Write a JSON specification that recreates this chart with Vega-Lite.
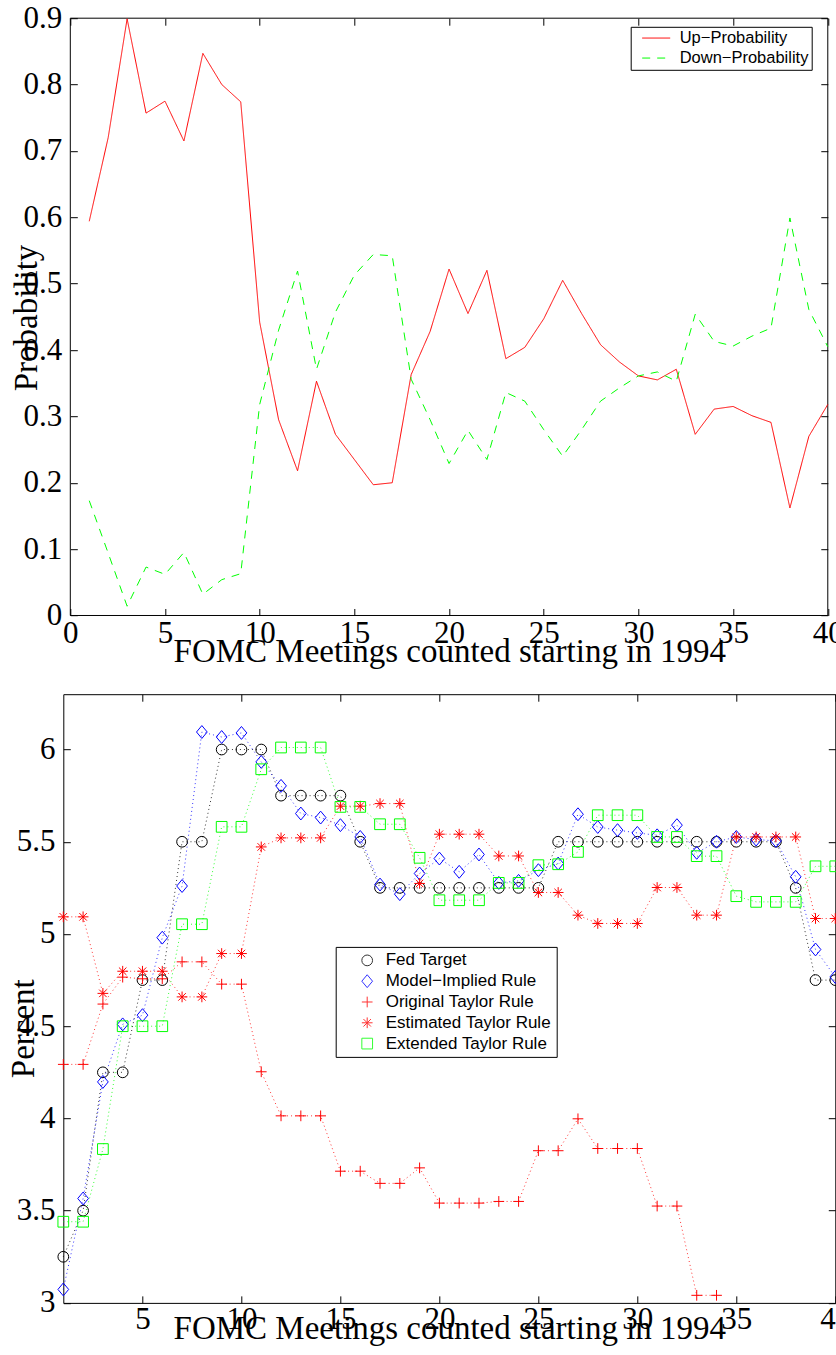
{
"$schema": "https://vega.github.io/schema/vega-lite/v6.json",
"background": "white",
"padding": {"left": 7.3, "top": 2.2, "right": 0, "bottom": 0},
"spacing": 78,
"bounds": "flush",
"resolve": {"scale": {"color": "independent", "strokeDash": "independent", "shape": "independent"}, "legend": {"color": "independent", "strokeDash": "independent", "shape": "independent"}},
"datasets": {
"prob": [
{"meeting":1,"series":"Up−Probability","value":0.594},{"meeting":2,"series":"Up−Probability","value":0.72},{"meeting":3,"series":"Up−Probability","value":0.899},{"meeting":4,"series":"Up−Probability","value":0.757},{"meeting":5,"series":"Up−Probability","value":0.775},{"meeting":6,"series":"Up−Probability","value":0.715},{"meeting":7,"series":"Up−Probability","value":0.847},{"meeting":8,"series":"Up−Probability","value":0.8},{"meeting":9,"series":"Up−Probability","value":0.774},{"meeting":10,"series":"Up−Probability","value":0.442},
{"meeting":11,"series":"Up−Probability","value":0.295},{"meeting":12,"series":"Up−Probability","value":0.218},{"meeting":13,"series":"Up−Probability","value":0.353},{"meeting":14,"series":"Up−Probability","value":0.273},{"meeting":15,"series":"Up−Probability","value":0.235},{"meeting":16,"series":"Up−Probability","value":0.197},{"meeting":17,"series":"Up−Probability","value":0.2},{"meeting":18,"series":"Up−Probability","value":0.363},{"meeting":19,"series":"Up−Probability","value":0.428},{"meeting":20,"series":"Up−Probability","value":0.522},
{"meeting":21,"series":"Up−Probability","value":0.455},{"meeting":22,"series":"Up−Probability","value":0.52},{"meeting":23,"series":"Up−Probability","value":0.387},{"meeting":24,"series":"Up−Probability","value":0.404},{"meeting":25,"series":"Up−Probability","value":0.447},{"meeting":26,"series":"Up−Probability","value":0.505},{"meeting":27,"series":"Up−Probability","value":0.455},{"meeting":28,"series":"Up−Probability","value":0.408},{"meeting":29,"series":"Up−Probability","value":0.382},{"meeting":30,"series":"Up−Probability","value":0.361},
{"meeting":31,"series":"Up−Probability","value":0.355},{"meeting":32,"series":"Up−Probability","value":0.371},{"meeting":33,"series":"Up−Probability","value":0.273},{"meeting":34,"series":"Up−Probability","value":0.311},{"meeting":35,"series":"Up−Probability","value":0.315},{"meeting":36,"series":"Up−Probability","value":0.301},{"meeting":37,"series":"Up−Probability","value":0.291},{"meeting":38,"series":"Up−Probability","value":0.162},{"meeting":39,"series":"Up−Probability","value":0.27},{"meeting":40,"series":"Up−Probability","value":0.318},
{"meeting":1,"series":"Down−Probability","value":0.173},{"meeting":2,"series":"Down−Probability","value":0.094},{"meeting":3,"series":"Down−Probability","value":0.014},{"meeting":4,"series":"Down−Probability","value":0.073},{"meeting":5,"series":"Down−Probability","value":0.062},{"meeting":6,"series":"Down−Probability","value":0.095},{"meeting":7,"series":"Down−Probability","value":0.032},{"meeting":8,"series":"Down−Probability","value":0.054},{"meeting":9,"series":"Down−Probability","value":0.063},{"meeting":10,"series":"Down−Probability","value":0.318},
{"meeting":11,"series":"Down−Probability","value":0.43},{"meeting":12,"series":"Down−Probability","value":0.519},{"meeting":13,"series":"Down−Probability","value":0.371},{"meeting":14,"series":"Down−Probability","value":0.457},{"meeting":15,"series":"Down−Probability","value":0.513},{"meeting":16,"series":"Down−Probability","value":0.544},{"meeting":17,"series":"Down−Probability","value":0.542},{"meeting":18,"series":"Down−Probability","value":0.356},{"meeting":19,"series":"Down−Probability","value":0.295},{"meeting":20,"series":"Down−Probability","value":0.229},
{"meeting":21,"series":"Down−Probability","value":0.279},{"meeting":22,"series":"Down−Probability","value":0.235},{"meeting":23,"series":"Down−Probability","value":0.336},{"meeting":24,"series":"Down−Probability","value":0.323},{"meeting":25,"series":"Down−Probability","value":0.28},{"meeting":26,"series":"Down−Probability","value":0.24},{"meeting":27,"series":"Down−Probability","value":0.28},{"meeting":28,"series":"Down−Probability","value":0.323},{"meeting":29,"series":"Down−Probability","value":0.343},{"meeting":30,"series":"Down−Probability","value":0.361},
{"meeting":31,"series":"Down−Probability","value":0.367},{"meeting":32,"series":"Down−Probability","value":0.353},{"meeting":33,"series":"Down−Probability","value":0.454},{"meeting":34,"series":"Down−Probability","value":0.413},{"meeting":35,"series":"Down−Probability","value":0.406},{"meeting":36,"series":"Down−Probability","value":0.421},{"meeting":37,"series":"Down−Probability","value":0.433},{"meeting":38,"series":"Down−Probability","value":0.599},{"meeting":39,"series":"Down−Probability","value":0.461},{"meeting":40,"series":"Down−Probability","value":0.405}
],
"rates": [
{"meeting":1,"rule":"Fed Target","value":3.25},{"meeting":2,"rule":"Fed Target","value":3.5},{"meeting":3,"rule":"Fed Target","value":4.25},{"meeting":4,"rule":"Fed Target","value":4.25},{"meeting":5,"rule":"Fed Target","value":4.75},{"meeting":6,"rule":"Fed Target","value":4.75},{"meeting":7,"rule":"Fed Target","value":5.5},{"meeting":8,"rule":"Fed Target","value":5.5},{"meeting":9,"rule":"Fed Target","value":6},{"meeting":10,"rule":"Fed Target","value":6},
{"meeting":11,"rule":"Fed Target","value":6},{"meeting":12,"rule":"Fed Target","value":5.75},{"meeting":13,"rule":"Fed Target","value":5.75},{"meeting":14,"rule":"Fed Target","value":5.75},{"meeting":15,"rule":"Fed Target","value":5.75},{"meeting":16,"rule":"Fed Target","value":5.5},{"meeting":17,"rule":"Fed Target","value":5.25},{"meeting":18,"rule":"Fed Target","value":5.25},{"meeting":19,"rule":"Fed Target","value":5.25},{"meeting":20,"rule":"Fed Target","value":5.25},
{"meeting":21,"rule":"Fed Target","value":5.25},{"meeting":22,"rule":"Fed Target","value":5.25},{"meeting":23,"rule":"Fed Target","value":5.25},{"meeting":24,"rule":"Fed Target","value":5.25},{"meeting":25,"rule":"Fed Target","value":5.25},{"meeting":26,"rule":"Fed Target","value":5.5},{"meeting":27,"rule":"Fed Target","value":5.5},{"meeting":28,"rule":"Fed Target","value":5.5},{"meeting":29,"rule":"Fed Target","value":5.5},{"meeting":30,"rule":"Fed Target","value":5.5},
{"meeting":31,"rule":"Fed Target","value":5.5},{"meeting":32,"rule":"Fed Target","value":5.5},{"meeting":33,"rule":"Fed Target","value":5.5},{"meeting":34,"rule":"Fed Target","value":5.5},{"meeting":35,"rule":"Fed Target","value":5.5},{"meeting":36,"rule":"Fed Target","value":5.5},{"meeting":37,"rule":"Fed Target","value":5.5},{"meeting":38,"rule":"Fed Target","value":5.25},{"meeting":39,"rule":"Fed Target","value":4.75},{"meeting":40,"rule":"Fed Target","value":4.75},
{"meeting":1,"rule":"Model−Implied Rule","value":3.073},{"meeting":2,"rule":"Model−Implied Rule","value":3.566},{"meeting":3,"rule":"Model−Implied Rule","value":4.198},{"meeting":4,"rule":"Model−Implied Rule","value":4.51},{"meeting":5,"rule":"Model−Implied Rule","value":4.56},{"meeting":6,"rule":"Model−Implied Rule","value":4.98},{"meeting":7,"rule":"Model−Implied Rule","value":5.26},{"meeting":8,"rule":"Model−Implied Rule","value":6.095},{"meeting":9,"rule":"Model−Implied Rule","value":6.068},{"meeting":10,"rule":"Model−Implied Rule","value":6.09},
{"meeting":11,"rule":"Model−Implied Rule","value":5.933},{"meeting":12,"rule":"Model−Implied Rule","value":5.803},{"meeting":13,"rule":"Model−Implied Rule","value":5.653},{"meeting":14,"rule":"Model−Implied Rule","value":5.631},{"meeting":15,"rule":"Model−Implied Rule","value":5.59},{"meeting":16,"rule":"Model−Implied Rule","value":5.526},{"meeting":17,"rule":"Model−Implied Rule","value":5.268},{"meeting":18,"rule":"Model−Implied Rule","value":5.216},{"meeting":19,"rule":"Model−Implied Rule","value":5.328},{"meeting":20,"rule":"Model−Implied Rule","value":5.409},
{"meeting":21,"rule":"Model−Implied Rule","value":5.337},{"meeting":22,"rule":"Model−Implied Rule","value":5.431},{"meeting":23,"rule":"Model−Implied Rule","value":5.277},{"meeting":24,"rule":"Model−Implied Rule","value":5.288},{"meeting":25,"rule":"Model−Implied Rule","value":5.346},{"meeting":26,"rule":"Model−Implied Rule","value":5.382},{"meeting":27,"rule":"Model−Implied Rule","value":5.649},{"meeting":28,"rule":"Model−Implied Rule","value":5.58},{"meeting":29,"rule":"Model−Implied Rule","value":5.563},{"meeting":30,"rule":"Model−Implied Rule","value":5.548},
{"meeting":31,"rule":"Model−Implied Rule","value":5.535},{"meeting":32,"rule":"Model−Implied Rule","value":5.59},{"meeting":33,"rule":"Model−Implied Rule","value":5.44},{"meeting":34,"rule":"Model−Implied Rule","value":5.5},{"meeting":35,"rule":"Model−Implied Rule","value":5.526},{"meeting":36,"rule":"Model−Implied Rule","value":5.512},{"meeting":37,"rule":"Model−Implied Rule","value":5.505},{"meeting":38,"rule":"Model−Implied Rule","value":5.31},{"meeting":39,"rule":"Model−Implied Rule","value":4.916},{"meeting":40,"rule":"Model−Implied Rule","value":4.767},
{"meeting":1,"rule":"Original Taylor Rule","value":4.293},{"meeting":2,"rule":"Original Taylor Rule","value":4.293},{"meeting":3,"rule":"Original Taylor Rule","value":4.62},{"meeting":4,"rule":"Original Taylor Rule","value":4.766},{"meeting":5,"rule":"Original Taylor Rule","value":4.757},{"meeting":6,"rule":"Original Taylor Rule","value":4.757},{"meeting":7,"rule":"Original Taylor Rule","value":4.849},{"meeting":8,"rule":"Original Taylor Rule","value":4.849},{"meeting":9,"rule":"Original Taylor Rule","value":4.728},{"meeting":10,"rule":"Original Taylor Rule","value":4.728},
{"meeting":11,"rule":"Original Taylor Rule","value":4.253},{"meeting":12,"rule":"Original Taylor Rule","value":4.014},{"meeting":13,"rule":"Original Taylor Rule","value":4.014},{"meeting":14,"rule":"Original Taylor Rule","value":4.014},{"meeting":15,"rule":"Original Taylor Rule","value":3.714},{"meeting":16,"rule":"Original Taylor Rule","value":3.714},{"meeting":17,"rule":"Original Taylor Rule","value":3.648},{"meeting":18,"rule":"Original Taylor Rule","value":3.648},{"meeting":19,"rule":"Original Taylor Rule","value":3.732},{"meeting":20,"rule":"Original Taylor Rule","value":3.541},
{"meeting":21,"rule":"Original Taylor Rule","value":3.541},{"meeting":22,"rule":"Original Taylor Rule","value":3.541},{"meeting":23,"rule":"Original Taylor Rule","value":3.55},{"meeting":24,"rule":"Original Taylor Rule","value":3.55},{"meeting":25,"rule":"Original Taylor Rule","value":3.825},{"meeting":26,"rule":"Original Taylor Rule","value":3.825},{"meeting":27,"rule":"Original Taylor Rule","value":3.998},{"meeting":28,"rule":"Original Taylor Rule","value":3.837},{"meeting":29,"rule":"Original Taylor Rule","value":3.837},{"meeting":30,"rule":"Original Taylor Rule","value":3.837},
{"meeting":31,"rule":"Original Taylor Rule","value":3.525},{"meeting":32,"rule":"Original Taylor Rule","value":3.525},{"meeting":33,"rule":"Original Taylor Rule","value":3.041},{"meeting":34,"rule":"Original Taylor Rule","value":3.041},
{"meeting":1,"rule":"Estimated Taylor Rule","value":5.093},{"meeting":2,"rule":"Estimated Taylor Rule","value":5.093},{"meeting":3,"rule":"Estimated Taylor Rule","value":4.678},{"meeting":4,"rule":"Estimated Taylor Rule","value":4.798},{"meeting":5,"rule":"Estimated Taylor Rule","value":4.798},{"meeting":6,"rule":"Estimated Taylor Rule","value":4.798},{"meeting":7,"rule":"Estimated Taylor Rule","value":4.659},{"meeting":8,"rule":"Estimated Taylor Rule","value":4.659},{"meeting":9,"rule":"Estimated Taylor Rule","value":4.894},{"meeting":10,"rule":"Estimated Taylor Rule","value":4.894},
{"meeting":11,"rule":"Estimated Taylor Rule","value":5.472},{"meeting":12,"rule":"Estimated Taylor Rule","value":5.521},{"meeting":13,"rule":"Estimated Taylor Rule","value":5.521},{"meeting":14,"rule":"Estimated Taylor Rule","value":5.521},{"meeting":15,"rule":"Estimated Taylor Rule","value":5.693},{"meeting":16,"rule":"Estimated Taylor Rule","value":5.693},{"meeting":17,"rule":"Estimated Taylor Rule","value":5.707},{"meeting":18,"rule":"Estimated Taylor Rule","value":5.707},{"meeting":19,"rule":"Estimated Taylor Rule","value":5.274},{"meeting":20,"rule":"Estimated Taylor Rule","value":5.541},
{"meeting":21,"rule":"Estimated Taylor Rule","value":5.541},{"meeting":22,"rule":"Estimated Taylor Rule","value":5.541},{"meeting":23,"rule":"Estimated Taylor Rule","value":5.423},{"meeting":24,"rule":"Estimated Taylor Rule","value":5.423},{"meeting":25,"rule":"Estimated Taylor Rule","value":5.225},{"meeting":26,"rule":"Estimated Taylor Rule","value":5.225},{"meeting":27,"rule":"Estimated Taylor Rule","value":5.102},{"meeting":28,"rule":"Estimated Taylor Rule","value":5.057},{"meeting":29,"rule":"Estimated Taylor Rule","value":5.057},{"meeting":30,"rule":"Estimated Taylor Rule","value":5.057},
{"meeting":31,"rule":"Estimated Taylor Rule","value":5.252},{"meeting":32,"rule":"Estimated Taylor Rule","value":5.252},{"meeting":33,"rule":"Estimated Taylor Rule","value":5.102},{"meeting":34,"rule":"Estimated Taylor Rule","value":5.102},{"meeting":35,"rule":"Estimated Taylor Rule","value":5.526},{"meeting":36,"rule":"Estimated Taylor Rule","value":5.526},{"meeting":37,"rule":"Estimated Taylor Rule","value":5.526},{"meeting":38,"rule":"Estimated Taylor Rule","value":5.526},{"meeting":39,"rule":"Estimated Taylor Rule","value":5.084},{"meeting":40,"rule":"Estimated Taylor Rule","value":5.084},
{"meeting":1,"rule":"Extended Taylor Rule","value":3.44},{"meeting":2,"rule":"Extended Taylor Rule","value":3.44},{"meeting":3,"rule":"Extended Taylor Rule","value":3.834},{"meeting":4,"rule":"Extended Taylor Rule","value":4.5},{"meeting":5,"rule":"Extended Taylor Rule","value":4.5},{"meeting":6,"rule":"Extended Taylor Rule","value":4.5},{"meeting":7,"rule":"Extended Taylor Rule","value":5.053},{"meeting":8,"rule":"Extended Taylor Rule","value":5.053},{"meeting":9,"rule":"Extended Taylor Rule","value":5.581},{"meeting":10,"rule":"Extended Taylor Rule","value":5.581},
{"meeting":11,"rule":"Extended Taylor Rule","value":5.893},{"meeting":12,"rule":"Extended Taylor Rule","value":6.011},{"meeting":13,"rule":"Extended Taylor Rule","value":6.011},{"meeting":14,"rule":"Extended Taylor Rule","value":6.011},{"meeting":15,"rule":"Extended Taylor Rule","value":5.689},{"meeting":16,"rule":"Extended Taylor Rule","value":5.689},{"meeting":17,"rule":"Extended Taylor Rule","value":5.595},{"meeting":18,"rule":"Extended Taylor Rule","value":5.595},{"meeting":19,"rule":"Extended Taylor Rule","value":5.413},{"meeting":20,"rule":"Extended Taylor Rule","value":5.183},
{"meeting":21,"rule":"Extended Taylor Rule","value":5.183},{"meeting":22,"rule":"Extended Taylor Rule","value":5.183},{"meeting":23,"rule":"Extended Taylor Rule","value":5.277},{"meeting":24,"rule":"Extended Taylor Rule","value":5.277},{"meeting":25,"rule":"Extended Taylor Rule","value":5.373},{"meeting":26,"rule":"Extended Taylor Rule","value":5.378},{"meeting":27,"rule":"Extended Taylor Rule","value":5.445},{"meeting":28,"rule":"Extended Taylor Rule","value":5.644},{"meeting":29,"rule":"Extended Taylor Rule","value":5.644},{"meeting":30,"rule":"Extended Taylor Rule","value":5.644},
{"meeting":31,"rule":"Extended Taylor Rule","value":5.526},{"meeting":32,"rule":"Extended Taylor Rule","value":5.526},{"meeting":33,"rule":"Extended Taylor Rule","value":5.422},{"meeting":34,"rule":"Extended Taylor Rule","value":5.422},{"meeting":35,"rule":"Extended Taylor Rule","value":5.205},{"meeting":36,"rule":"Extended Taylor Rule","value":5.174},{"meeting":37,"rule":"Extended Taylor Rule","value":5.174},{"meeting":38,"rule":"Extended Taylor Rule","value":5.174},{"meeting":39,"rule":"Extended Taylor Rule","value":5.367},{"meeting":40,"rule":"Extended Taylor Rule","value":5.367}
]
},
"vconcat": [
{
"width": 772, "height": 597.3,
"layer": [
{
"data": {"values": [{}]},
"mark": {"type": "rect", "filled": false, "stroke": "black", "strokeWidth": 1},
"encoding": {
"x": {"datum": 0, "type": "quantitative", "scale": {"domain": [-0.3696, 40.396], "nice": false, "zero": false}, "axis": {"orient": "top", "labels": false, "title": null, "domain": false, "values": [0,5,10,15,20,25,30,35,40]}},
"x2": {"datum": 40},
"y": {"datum": 0, "type": "quantitative", "scale": {"domain": [0, 0.9], "nice": false, "zero": false}, "axis": {"orient": "right", "offset": -7.5, "labels": false, "title": null, "domain": false, "values": [0,0.1,0.2,0.3,0.4,0.5,0.6,0.7,0.8,0.9]}},
"y2": {"datum": 0.9}
}
},
{
"data": {"name": "prob"},
"mark": {"type": "line", "strokeWidth": 1},
"encoding": {
"x": {"field": "meeting", "type": "quantitative", "scale": {"domain": [-0.3696, 40.396], "nice": false, "zero": false}, "axis": {"orient": "bottom", "domain": false, "values": [0,5,10,15,20,25,30,35,40], "labelBaseline": "alphabetic", "labelPadding": 34, "title": "FOMC Meetings counted starting in 1994", "titleBaseline": "alphabetic", "titleY": 45.7}},
"y": {"field": "value", "type": "quantitative", "scale": {"domain": [0, 0.9], "nice": false, "zero": false}, "axis": {"orient": "left", "offset": -7, "domain": false, "values": [0,0.1,0.2,0.3,0.4,0.5,0.6,0.7,0.8,0.9], "format": ".1~f", "labelPadding": 15.6, "title": "Probability", "titleAngle": -90, "titleBaseline": "alphabetic", "titleAlign": "center", "titleX": -33.5, "titleY": 299.3}},
"color": {"field": "series", "type": "nominal", "scale": {"domain": ["Up−Probability", "Down−Probability"], "range": ["#ff0000", "#00ff00"]},
"legend": {"title": null, "orient": "none", "legendX": 567.4, "legendY": 8.6, "strokeColor": "black", "fillColor": "white", "padding": 3, "rowPadding": 3, "clipHeight": 16.5, "symbolOffset": 8, "symbolType": "stroke", "symbolSize": 784, "symbolStrokeWidth": 1, "labelOffset": 9, "labelLimit": 0, "labelFont": "Liberation Sans", "labelFontSize": 16.5, "labelColor": "black"}},
"strokeDash": {"field": "series", "type": "nominal", "scale": {"domain": ["Up−Probability", "Down−Probability"], "range": [[1,0],[8,7]]},
"legend": {"title": null, "orient": "none", "legendX": 567.4, "legendY": 8.6, "strokeColor": "black", "fillColor": "white", "padding": 3, "rowPadding": 3, "clipHeight": 16.5, "symbolOffset": 8, "symbolType": "stroke", "symbolSize": 784, "symbolStrokeWidth": 1, "labelOffset": 9, "labelLimit": 0, "labelFont": "Liberation Sans", "labelFontSize": 16.5, "labelColor": "black"}}
}
}
],
"resolve": {"axis": {"x": "independent", "y": "independent"}}
},
{
"width": 772, "height": 608.7,
"data": {"name": "rates"},
"layer": [
{
"mark": {"type": "line", "strokeWidth": 1, "strokeDash": [1, 3], "opacity": 0.8},
"encoding": {
"x": {"field": "meeting", "type": "quantitative", "scale": {"domain": [1, 40], "nice": false, "zero": false}, "axis": {"orient": "bottom", "values": [5,10,15,20,25,30,35,40], "labelBaseline": "alphabetic", "labelPadding": 32.6, "title": "FOMC Meetings counted starting in 1994", "titleBaseline": "alphabetic", "titleY": 35.6}},
"y": {"field": "value", "type": "quantitative", "scale": {"domain": [3, 6.3], "nice": false, "zero": false}, "axis": {"orient": "left", "values": [3,3.5,4,4.5,5,5.5,6], "format": ".1~f", "labelPadding": 15.3, "title": "Percent", "titleAngle": -90, "titleBaseline": "alphabetic", "titleAlign": "center", "titleX": -30, "titleY": 334}},
"color": {"field": "rule", "type": "nominal", "scale": {"domain": ["Fed Target", "Model−Implied Rule", "Original Taylor Rule", "Estimated Taylor Rule", "Extended Taylor Rule"], "range": ["#000000", "#0000ff", "#ff0000", "#ff0000", "#00ff00"]},
"legend": {"title": null, "orient": "none", "legendX": 272.4, "legendY": 252.7, "strokeColor": "black", "fillColor": "white", "padding": 5, "rowPadding": 2.8, "symbolOffset": 18, "symbolSize": 115, "symbolStrokeWidth": 1, "labelOffset": 10, "labelLimit": 0, "labelFont": "Liberation Sans", "labelFontSize": 17, "labelColor": "black"}}
}
},
{
"mark": {"type": "point", "filled": false, "size": 115, "strokeWidth": 1, "opacity": 1},
"encoding": {
"x": {"field": "meeting", "type": "quantitative", "axis": {"orient": "top", "labels": false, "title": null, "values": [5,10,15,20,25,30,35,40]}},
"y": {"field": "value", "type": "quantitative", "axis": {"orient": "right", "labels": false, "title": null, "values": [3,3.5,4,4.5,5,5.5,6]}},
"color": {"field": "rule", "type": "nominal", "scale": {"domain": ["Fed Target", "Model−Implied Rule", "Original Taylor Rule", "Estimated Taylor Rule", "Extended Taylor Rule"], "range": ["#000000", "#0000ff", "#ff0000", "#ff0000", "#00ff00"]},
"legend": {"title": null, "orient": "none", "legendX": 272.4, "legendY": 252.7, "strokeColor": "black", "fillColor": "white", "padding": 5, "rowPadding": 2.8, "symbolOffset": 18, "symbolSize": 115, "symbolStrokeWidth": 1, "labelOffset": 10, "labelLimit": 0, "labelFont": "Liberation Sans", "labelFontSize": 17, "labelColor": "black"}},
"shape": {"field": "rule", "type": "nominal", "scale": {"domain": ["Fed Target", "Model−Implied Rule", "Original Taylor Rule", "Estimated Taylor Rule", "Extended Taylor Rule"], "range": ["circle", "M0,-1.2L1,0L0,1.2L-1,0Z", "M-1,0L1,0M0,-1L0,1", "M-1,0L1,0M0,-1L0,1M-0.7,-0.7L0.7,0.7M-0.7,0.7L0.7,-0.7", "square"]},
"legend": {"title": null, "orient": "none", "legendX": 272.4, "legendY": 252.7, "strokeColor": "black", "fillColor": "white", "padding": 5, "rowPadding": 2.8, "symbolOffset": 18, "symbolSize": 115, "symbolStrokeWidth": 1, "labelOffset": 10, "labelLimit": 0, "labelFont": "Liberation Sans", "labelFontSize": 17, "labelColor": "black"}}
}
}
],
"resolve": {"axis": {"x": "independent", "y": "independent"}}
}
],
"config": {
"view": {"stroke": null},
"axis": {"labelFont": "Liberation Serif", "labelFontSize": 31, "labelColor": "black", "titleFont": "Liberation Serif", "titleFontSize": 33, "titleFontWeight": "normal", "titleColor": "black", "tickColor": "black", "tickSize": -7, "tickWidth": 1, "domainColor": "black", "domainWidth": 1, "grid": false, "labelFlush": false, "labelOverlap": false, "labelBound": false}
}
}
